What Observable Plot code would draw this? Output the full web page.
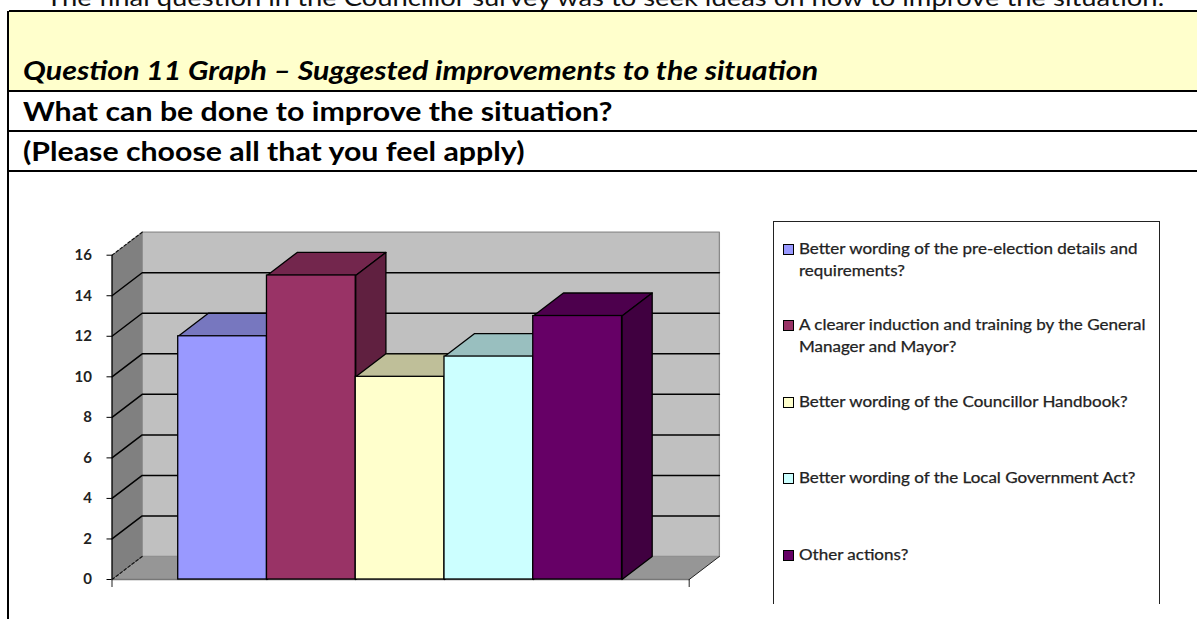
<!DOCTYPE html>
<html><head><meta charset="utf-8">
<script src="https://cdn.jsdelivr.net/npm/d3@7"></script>
<script src="https://cdn.jsdelivr.net/npm/@observablehq/plot@0.6"></script>
<style>
html,body{margin:0;padding:0;background:#fff}
#page{position:relative;width:1197px;height:619px;overflow:hidden;font-family:Lato,sans-serif;color:#000}
.wide{display:inline-block;transform:scaleX(1.165);transform-origin:left center}
#intro{position:absolute;left:46px;top:-19px;font-size:23.5px;line-height:32px;white-space:nowrap;color:#111}
#frame{position:absolute;left:7px;top:11px;right:0;bottom:0;border-left:2px solid #000;box-sizing:border-box}
.row{position:absolute;left:9px;right:0;border-bottom:2px solid #000;box-sizing:border-box;white-space:nowrap;font-size:26px;font-weight:700;padding-left:14px}
#r1{top:10px;height:82px;background:#ffffcc;border-top:2px solid #000;font-style:italic;line-height:117px}
#r2{top:92px;height:40px;line-height:38px}
#r3{top:132px;height:40px;line-height:39px}
#chart{position:absolute;left:0;top:172px}
#legend{position:absolute;left:773px;top:221px;width:387px;height:383px;border:1px solid #222;border-bottom:none;box-sizing:border-box;background:#fff}
.entry{position:absolute;left:9px;right:0;font-size:14.6px;line-height:22px;color:#222;padding-left:16px;-webkit-text-stroke:.25px #222}
.entry .wide{display:block;width:318px}
.sw{position:absolute;left:0;top:6px;width:9px;height:9px;border:1.6px solid #000;box-sizing:content-box}
</style></head><body>
<div id="page">
  <div id="intro"><span class="wide">The final question in the Councillor survey was to seek ideas on how to improve the situation.</span></div>
  <div id="frame"></div>
  <div class="row" id="r1"><span class="wide">Question 11 Graph – Suggested improvements to the situation</span></div>
  <div class="row" id="r2"><span class="wide">What can be done to improve the situation?</span></div>
  <div class="row" id="r3"><span class="wide">(Please choose all that you feel apply)</span></div>
  <div id="chart"></div>
  <div id="legend"></div>
</div>
<script>
const categories = [
  "Better wording of the pre-election details and requirements?",
  "A clearer induction and training by the General Manager and Mayor?",
  "Better wording of the Councillor Handbook?",
  "Better wording of the Local Government Act?",
  "Other actions?"
];
const values = [12, 15, 10, 11, 13];
const frontColors = ["#9999ff", "#993366", "#ffffcc", "#ccffff", "#660066"];
const topColors = ["#7777bf", "#73264d", "#bfbf99", "#99bfbf", "#4d004d"];
const sideColors = ["#60607f", "#602040", "#80806a", "#6a8080", "#400040"];
const yTicks = [0, 2, 4, 6, 8, 10, 12, 14, 16];

const xMin = -0.746, xMax = 5.757;   // bar-width units; each bar is one unit wide
const depthX = 0.34, depthY = 1.135; // receding depth of the 3-D box
const yMax = 16;

const poly = (key, pts, color) => pts.map(([x, y]) => ({key, x, y, color}));
const face = (rows, stroke, extra = {}) => Plot.line(rows, {
  x: "x", y: "y", z: "key", fill: "color", stroke, strokeWidth: 1.3,
  curve: "linear-closed", ...extra
});

const marks = [
  face(poly("back", [[xMin+depthX,depthY],[xMax+depthX,depthY],[xMax+depthX,yMax+depthY],[xMin+depthX,yMax+depthY]], "#c0c0c0"), "#8a8a8a"),
  face(poly("wall", [[xMin,0],[xMin+depthX,depthY],[xMin+depthX,yMax+depthY],[xMin,yMax]], "#808080"), "none"),
  face(poly("floor", [[xMin,0],[xMax,0],[xMax+depthX,depthY],[xMin+depthX,depthY]], "#969696"), "none"),
  Plot.line([[xMin,0],[xMax,0]], {x: d => d[0], y: d => d[1], stroke: "#777", strokeWidth: 1.5}),
  Plot.line([[xMax,0],[xMax+depthX,depthY]], {x: d => d[0], y: d => d[1], stroke: "#222", strokeWidth: 1}),
  // dashed top and bottom edges of the side wall
  ...[0, yMax].map(v => Plot.line([[xMin,v],[xMin+depthX,v+depthY]], {x: d => d[0], y: d => d[1], stroke: "#111", strokeWidth: 1.2, strokeDasharray: "3,2"})),
  // gridlines
  ...yTicks.filter(v => v > 0 && v < yMax).map(v => Plot.line([[xMin,v],[xMin+depthX,v+depthY],[xMax+depthX,v+depthY]], {x: d => d[0], y: d => d[1], stroke: "#000", strokeWidth: 1.5}))
];

values.forEach((v, i) => {
  const a = i, b = i + 1;
  marks.push(face(poly("top"+i, [[a,v],[b,v],[b+depthX,v+depthY],[a+depthX,v+depthY]], topColors[i]), "#000"));
  marks.push(face(poly("side"+i, [[b,0],[b+depthX,depthY],[b+depthX,v+depthY],[b,v]], sideColors[i]), "#000"));
  marks.push(Plot.rect([{a, b, v}], {x1: "a", x2: "b", y1: 0, y2: "v", fill: frontColors[i], stroke: "#000", strokeWidth: 1.3}));
});

marks.push(Plot.axisY({ticks: yTicks, tickSize: 5, tickPadding: 15, fontSize: 15, fontWeight: 700, label: null, fontFamily: "Lato", color: "#222", stroke: "#000"}));
marks.push(Plot.axisX({ticks: [xMin, xMax], tickSize: 8, tickFormat: () => "", label: null, stroke: "#222"}));
marks.push(Plot.ruleX([xMin], {y1: 0, y2: yMax, stroke: "#000", strokeWidth: 1.3}));

const chart = Plot.plot({
  width: 770, height: 447,
  marginLeft: 111.5, marginRight: 81.3, marginTop: 82.7, marginBottom: 40,
  x: {domain: [xMin, xMax]},
  y: {domain: [0, yMax]},
  color: {type: "identity"},
  style: {background: "transparent", overflow: "visible"},
  marks
});
document.getElementById("chart").append(chart);

const tops = [16, 92, 169, 245, 322];
const legend = d3.select("#legend");
categories.forEach((c, i) => {
  const e = legend.append("div").attr("class", "entry").style("top", tops[i] + "px").style("width", "365px");
  e.append("span").attr("class", "sw").style("background", frontColors[i]);
  e.append("span").attr("class", "wide").text(c);
});
</script>
</body></html>
